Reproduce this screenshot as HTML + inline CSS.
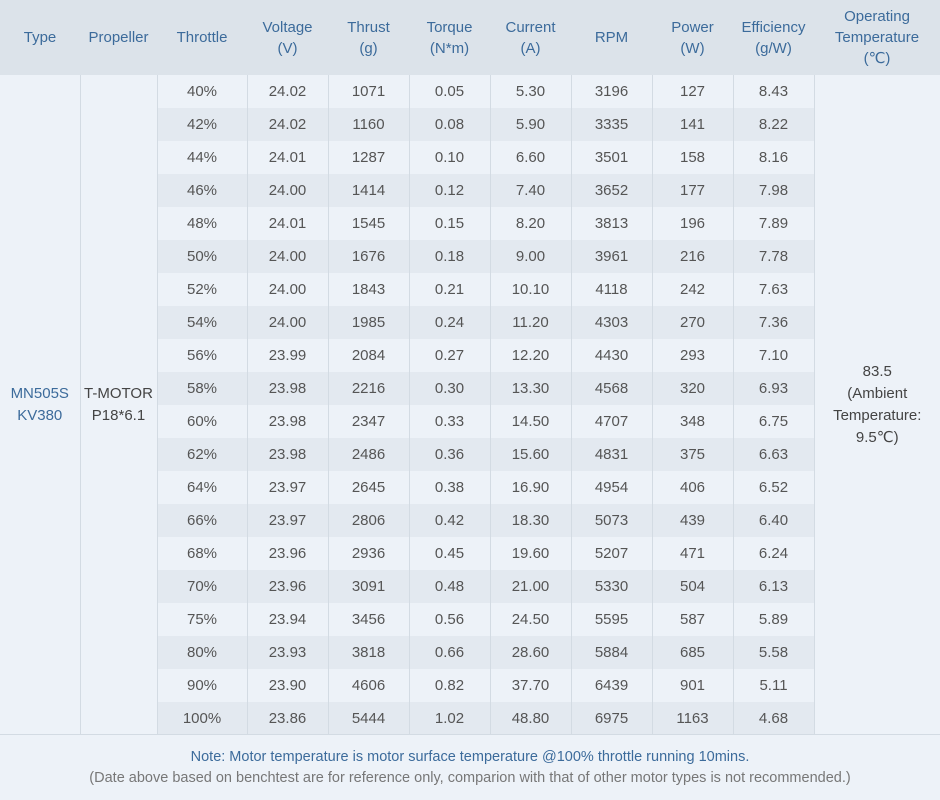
<!DOCTYPE html>
<html><head><meta charset="utf-8"><style>
body{margin:0;width:940px;height:800px;background:#edf2f8;font-family:"Liberation Sans","DejaVu Sans",sans-serif;overflow:hidden}
table{border-collapse:collapse;table-layout:fixed;width:940px;position:absolute;top:0;left:0}
th{background:#dce3ea;color:#3c6b9b;font-weight:normal;font-size:15px;line-height:21px;height:75px;padding:0;text-align:center}
td{height:33px;padding:0;text-align:center;font-size:15px;color:#555;border-left:1px solid #d3dbe3;border-right:1px solid #d3dbe3}
tr.e td.d{background:#e3e9f0}
td.s{color:#3c6b9b;background:#edf2f8;border-left:none;line-height:22px}
td.t{color:#444;background:#edf2f8;line-height:22px}
td.r{border-right:none}
.foot{position:absolute;top:734px;left:0;width:940px;border-top:1px solid #d3dbe3;text-align:center;font-size:14.5px}
</style></head><body>
<table>
<colgroup><col style="width:80px"><col style="width:77px"><col style="width:90px"><col style="width:81px"><col style="width:81px"><col style="width:81px"><col style="width:81px"><col style="width:81px"><col style="width:81px"><col style="width:81px"><col style="width:126px"></colgroup>
<tr><th>Type</th><th>Propeller</th><th>Throttle</th><th>Voltage<br>(V)</th><th>Thrust<br>(g)</th><th>Torque<br>(N*m)</th><th>Current<br>(A)</th><th>RPM</th><th>Power<br>(W)</th><th>Efficiency<br>(g/W)</th><th>Operating<br>Temperature<br>(℃)</th></tr>
<tr><td class="s" rowspan="20">MN505S<br>KV380</td><td class="t" rowspan="20">T-MOTOR<br>P18*6.1</td><td class="d">40%</td><td class="d">24.02</td><td class="d">1071</td><td class="d">0.05</td><td class="d">5.30</td><td class="d">3196</td><td class="d">127</td><td class="d">8.43</td><td class="t r" rowspan="20">83.5<br>(Ambient<br>Temperature:<br>9.5℃)</td></tr>
<tr class="e"><td class="d">42%</td><td class="d">24.02</td><td class="d">1160</td><td class="d">0.08</td><td class="d">5.90</td><td class="d">3335</td><td class="d">141</td><td class="d">8.22</td></tr>
<tr><td class="d">44%</td><td class="d">24.01</td><td class="d">1287</td><td class="d">0.10</td><td class="d">6.60</td><td class="d">3501</td><td class="d">158</td><td class="d">8.16</td></tr>
<tr class="e"><td class="d">46%</td><td class="d">24.00</td><td class="d">1414</td><td class="d">0.12</td><td class="d">7.40</td><td class="d">3652</td><td class="d">177</td><td class="d">7.98</td></tr>
<tr><td class="d">48%</td><td class="d">24.01</td><td class="d">1545</td><td class="d">0.15</td><td class="d">8.20</td><td class="d">3813</td><td class="d">196</td><td class="d">7.89</td></tr>
<tr class="e"><td class="d">50%</td><td class="d">24.00</td><td class="d">1676</td><td class="d">0.18</td><td class="d">9.00</td><td class="d">3961</td><td class="d">216</td><td class="d">7.78</td></tr>
<tr><td class="d">52%</td><td class="d">24.00</td><td class="d">1843</td><td class="d">0.21</td><td class="d">10.10</td><td class="d">4118</td><td class="d">242</td><td class="d">7.63</td></tr>
<tr class="e"><td class="d">54%</td><td class="d">24.00</td><td class="d">1985</td><td class="d">0.24</td><td class="d">11.20</td><td class="d">4303</td><td class="d">270</td><td class="d">7.36</td></tr>
<tr><td class="d">56%</td><td class="d">23.99</td><td class="d">2084</td><td class="d">0.27</td><td class="d">12.20</td><td class="d">4430</td><td class="d">293</td><td class="d">7.10</td></tr>
<tr class="e"><td class="d">58%</td><td class="d">23.98</td><td class="d">2216</td><td class="d">0.30</td><td class="d">13.30</td><td class="d">4568</td><td class="d">320</td><td class="d">6.93</td></tr>
<tr><td class="d">60%</td><td class="d">23.98</td><td class="d">2347</td><td class="d">0.33</td><td class="d">14.50</td><td class="d">4707</td><td class="d">348</td><td class="d">6.75</td></tr>
<tr class="e"><td class="d">62%</td><td class="d">23.98</td><td class="d">2486</td><td class="d">0.36</td><td class="d">15.60</td><td class="d">4831</td><td class="d">375</td><td class="d">6.63</td></tr>
<tr><td class="d">64%</td><td class="d">23.97</td><td class="d">2645</td><td class="d">0.38</td><td class="d">16.90</td><td class="d">4954</td><td class="d">406</td><td class="d">6.52</td></tr>
<tr class="e"><td class="d">66%</td><td class="d">23.97</td><td class="d">2806</td><td class="d">0.42</td><td class="d">18.30</td><td class="d">5073</td><td class="d">439</td><td class="d">6.40</td></tr>
<tr><td class="d">68%</td><td class="d">23.96</td><td class="d">2936</td><td class="d">0.45</td><td class="d">19.60</td><td class="d">5207</td><td class="d">471</td><td class="d">6.24</td></tr>
<tr class="e"><td class="d">70%</td><td class="d">23.96</td><td class="d">3091</td><td class="d">0.48</td><td class="d">21.00</td><td class="d">5330</td><td class="d">504</td><td class="d">6.13</td></tr>
<tr><td class="d">75%</td><td class="d">23.94</td><td class="d">3456</td><td class="d">0.56</td><td class="d">24.50</td><td class="d">5595</td><td class="d">587</td><td class="d">5.89</td></tr>
<tr class="e"><td class="d">80%</td><td class="d">23.93</td><td class="d">3818</td><td class="d">0.66</td><td class="d">28.60</td><td class="d">5884</td><td class="d">685</td><td class="d">5.58</td></tr>
<tr><td class="d">90%</td><td class="d">23.90</td><td class="d">4606</td><td class="d">0.82</td><td class="d">37.70</td><td class="d">6439</td><td class="d">901</td><td class="d">5.11</td></tr>
<tr class="e"><td class="d">100%</td><td class="d">23.86</td><td class="d">5444</td><td class="d">1.02</td><td class="d">48.80</td><td class="d">6975</td><td class="d">1163</td><td class="d">4.68</td></tr>
</table>
<div class="foot"><div style="color:#3c6b9b;margin-top:14px">Note: Motor temperature is motor surface temperature @100% throttle running 10mins.</div><div style="color:#777;margin-top:5px">(Date above based on benchtest are for reference only, comparion with that of other motor types is not recommended.)</div></div>
</body></html>
